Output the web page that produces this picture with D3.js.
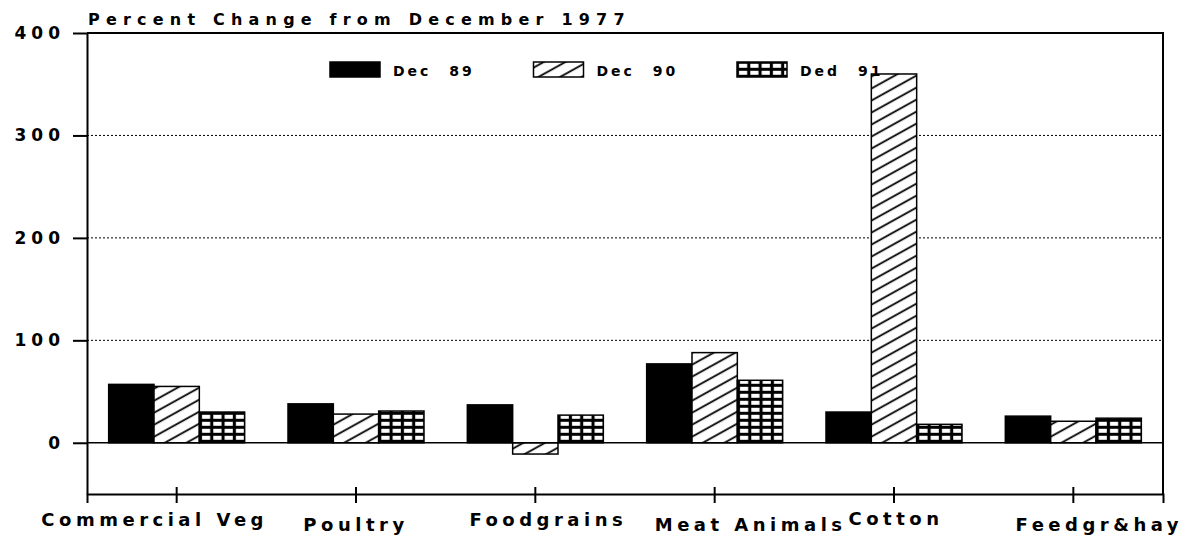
<!DOCTYPE html>
<html>
<head>
<meta charset="utf-8">
<script src="https://cdn.jsdelivr.net/npm/d3@7"></script>
<style>
  body { margin: 0; background: #fff; }
  svg { display: block; }
  text { font-family: "DejaVu Sans", sans-serif; font-weight: bold; fill: #000; white-space: pre; }
</style>
</head>
<body>
<svg id="chart" width="1190" height="537"></svg>
<script>
// data
const categories = ["Commercial Veg", "Poultry", "Foodgrains", "Meat Animals", "Cotton", "Feedgr&hay"];
const seriesNames = ["Dec  89", "Dec  90", "Ded  91"];
const dec89 = [57, 38, 37, 77, 30, 26];
const dec90 = [55, 28, -11, 88, 360, 21];
const dec91 = [30, 31, 27, 61, 18, 24];
const yTicks = [0, 100, 200, 300, 400];
const gridTicks = [100, 200, 300];
const title = "Percent Change from December 1977";

// label nudges, the original labels are not centred on their ticks
const labelDx = [-22, 0, 13, 36, 2, 26];
const labelBase = [526, 531, 526, 531, 525, 531];

const series = [dec89, dec90, dec91];
const svg = d3.select("#chart");

const plotLeft = 87, plotRight = 1163, plotTop = 33, plotBottom = 494;

const x = d3.scaleBand().domain(categories).range([plotLeft, plotRight]);
const groupW = 136;
const x1 = d3.scaleBand()
    .domain(d3.range(series.length))
    .range([(x.bandwidth() - groupW) / 2, (x.bandwidth() + groupW) / 2]);
const y = d3.scaleLinear().domain([-50, 400]).range([plotBottom, plotTop]);

// fill patterns
const defs = svg.append("defs");
defs.append("pattern")
    .attr("id", "hatch")
    .attr("patternUnits", "userSpaceOnUse")
    .attr("width", 10).attr("height", 10.5)
    .attr("patternTransform", "rotate(-29)")
    .call(p => {
        p.append("rect").attr("width", 10).attr("height", 10.5).attr("fill", "#fff");
        p.append("line").attr("x1", 0).attr("x2", 10).attr("y1", 5).attr("y2", 5)
            .attr("stroke", "#000").attr("stroke-width", 1.8);
    });
defs.append("pattern")
    .attr("id", "grid")
    .attr("patternUnits", "userSpaceOnUse")
    .attr("width", 11.3).attr("height", 7)
    .call(p => {
        p.append("rect").attr("width", 11.3).attr("height", 7).attr("fill", "#000");
        p.append("rect").attr("x", 2).attr("y", 1.8).attr("width", 8.2).attr("height", 4)
            .attr("fill", "#fff");
    });
const fills = ["#000", "url(#hatch)", "url(#grid)"];

// dotted gridlines
svg.append("g")
    .selectAll("line")
    .data(gridTicks)
    .join("line")
    .attr("x1", plotLeft).attr("x2", plotRight)
    .attr("y1", d => y(d)).attr("y2", d => y(d))
    .attr("stroke", "#000")
    .attr("stroke-width", 1)
    .attr("stroke-dasharray", "2,2");

// bars
const groups = svg.append("g")
    .selectAll("g")
    .data(categories)
    .join("g")
    .attr("transform", d => `translate(${x(d)},0)`);

groups.selectAll("rect")
    .data((d, i) => series.map((s, k) => ({ k, v: s[i] })))
    .join("rect")
    .attr("x", d => x1(d.k))
    .attr("width", x1.bandwidth())
    .attr("y", d => y(Math.max(0, d.v)))
    .attr("height", d => Math.abs(y(d.v) - y(0)))
    .attr("fill", d => fills[d.k])
    .attr("stroke", "#000")
    .attr("stroke-width", 1.5);

// zero line
svg.append("line")
    .attr("x1", plotLeft).attr("x2", plotRight)
    .attr("y1", y(0)).attr("y2", y(0))
    .attr("stroke", "#000").attr("stroke-width", 1.6);

// frame: top and right
svg.append("path")
    .attr("d", `M${plotLeft},${plotTop}H${plotRight}V${plotBottom}`)
    .attr("fill", "none").attr("stroke", "#000").attr("stroke-width", 2);

// y axis
const yAxis = svg.append("g")
    .attr("transform", `translate(${plotLeft},0)`)
    .call(d3.axisLeft(y).tickValues(yTicks).tickSize(14).tickSizeOuter(0).tickPadding(8));
yAxis.select(".domain").attr("stroke-width", 2);
yAxis.selectAll(".tick line").attr("stroke-width", 2);
yAxis.attr("font-family", null).attr("font-size", null);
yAxis.selectAll(".tick text")
    .style("font-size", "17px")
    .style("letter-spacing", "5px");

// x axis
const xAxis = svg.append("g")
    .attr("transform", `translate(0,${plotBottom})`)
    .call(d3.axisBottom(x).tickSizeOuter(0).tickSize(9));
xAxis.select(".domain").attr("stroke-width", 2);
xAxis.selectAll(".tick line").attr("y1", -7).attr("stroke-width", 2);
xAxis.selectAll(".tick text").remove();

svg.append("g")
    .selectAll("text")
    .data(categories)
    .join("text")
    .attr("x", (d, i) => x(d) + x.bandwidth() / 2 + labelDx[i])
    .attr("y", (d, i) => labelBase[i])
    .attr("text-anchor", "middle")
    .style("font-size", "18px")
    .style("letter-spacing", "4.5px")
    .text(d => d);

// title
svg.append("text")
    .attr("x", 88).attr("y", 25)
    .style("font-size", "16px")
    .style("letter-spacing", "6.2px")
    .text(title);

// legend
const legend = svg.append("g")
    .selectAll("g")
    .data(seriesNames)
    .join("g")
    .attr("transform", (d, i) => `translate(${330 + i * 203.5},62)`);
legend.append("rect")
    .attr("width", 50).attr("height", 15)
    .attr("fill", (d, i) => fills[i])
    .attr("stroke", "#000").attr("stroke-width", 1.5);
legend.append("text")
    .attr("x", 63).attr("y", 14)
    .style("font-size", "14px")
    .style("letter-spacing", "3px")
    .style("word-spacing", "1px")
    .text(d => d);
</script>
</body>
</html>
